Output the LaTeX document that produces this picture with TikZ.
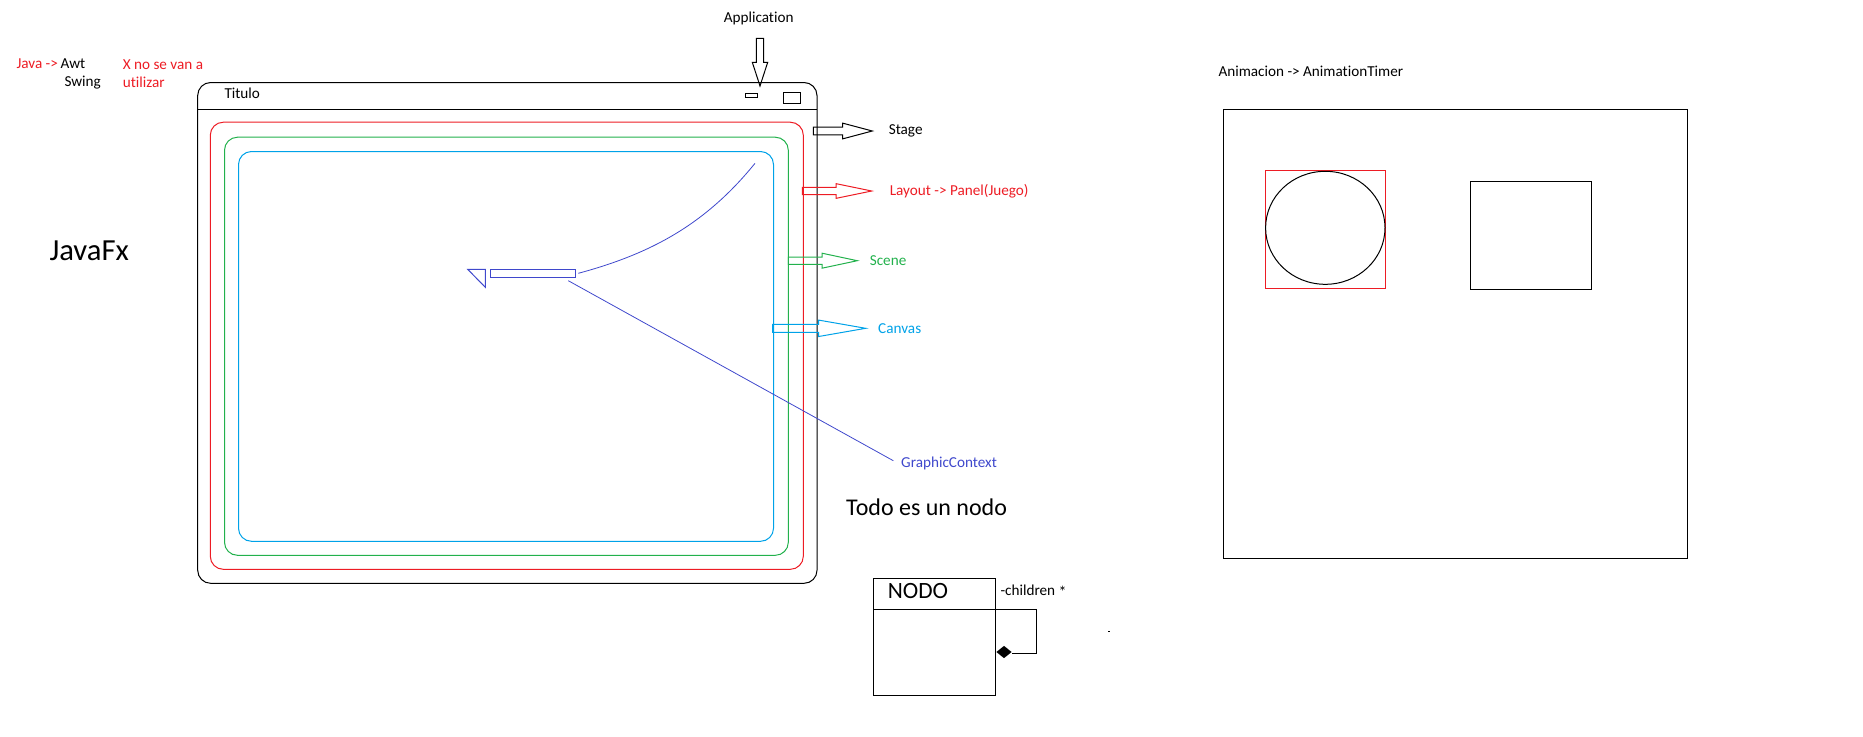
\documentclass[tikz,border=0pt]{standalone}
\usepackage{fontspec}
\setmainfont{Carlito}[Ligatures={NoCommon,NoContextual}]
\usetikzlibrary{shapes.geometric}
\definecolor{pred}{RGB}{237,28,36}
\definecolor{pgreen}{RGB}{34,177,76}
\definecolor{pcyan}{RGB}{0,162,232}
\definecolor{pindigo}{RGB}{63,72,204}
\newcommand\myrarrow[7]{%
  \draw[#1] (#2,#5-#6) -- (#3,#5-#6) -- (#3,#5-#7) -- (#4,#5) -- (#3,#5+#7) -- (#3,#5+#6) -- (#2,#5+#6) -- cycle;}
\begin{document}
\begin{tikzpicture}[x=0.75pt,y=-0.75pt,line width=0.75pt,
  lbl/.style={anchor=base west,inner sep=0,font=\fontsize{11.4}{13}\selectfont},
  big/.style={anchor=base west,inner sep=0,font=\fontsize{#1}{#1}\selectfont},
  frame/.style={rounded corners=13*0.75pt}]
\useasboundingbox (0,0) rectangle (1863,736);

% left texts
\node[lbl,text=pred] (java) at (16,68.3) {Java ->};
\node[lbl] (awt) at (60,68.3) {Awt};
\node[lbl] (swing) at (64,86.7) {Swing};
\node[lbl,text=pred] (xno) at (122.3,69) {X no se van a};
\node[lbl,text=pred] (util) at (122.3,87) {utilizar};
\node[big=23] (javafx) at (49,260.7) {JavaFx};

% window (stage)
\draw[frame] (197.7,82.5) rectangle (817,583.3);
\draw (197.7,109) -- (817,109);
\node[lbl] (titulo) at (224,98.3) {Titulo};
\draw (745.3,93.3) rectangle (757.7,97.3);
\draw (783.3,92) rectangle (800.3,103.3);

% nested frames
\draw[frame,pred] (210.3,122.2) rectangle (803.3,569.3);
\draw[frame,pgreen] (224.5,137.2) rectangle (788.3,555.3);
\draw[frame,pcyan] (238.5,151.5) rectangle (773.5,541.3);

% application arrow
\node[lbl] (app) at (723.3,22) {Application};
\draw (756.3,38.3) -- (763.7,38.3) -- (763.7,62.3) -- (767.7,62.3) -- (760,86) -- (752.3,62.3) -- (756.3,62.3) -- cycle;

% right-pointing block arrows and labels
\myrarrow{black}{813.3}{842.7}{872.3}{131}{3.85}{7.85}
\node[lbl] (stage) at (888.3,134) {Stage};
\myrarrow{pred}{802.3}{836}{871.7}{191}{3.7}{7.35}
\node[lbl,text=pred] (layout) at (889.3,195) {Layout -> Panel(Juego)};
\myrarrow{pgreen}{788.3}{822}{857.3}{260.7}{3.65}{7.5}
\node[lbl,text=pgreen] (scene) at (869.3,265.3) {Scene};
\myrarrow{pcyan}{772.7}{818.7}{865.7}{328.3}{4}{8.2}
\node[lbl,text=pcyan] (canvas) at (877.7,333) {Canvas};

% graphic context sketch
\draw[pindigo] (467.7,269.3) -- (485.3,269.3) -- (485.3,287.3) -- cycle;
\draw[pindigo] (490.3,269.3) rectangle (575.7,277.3);
\coordinate (c0) at (578.3,273.3);
\coordinate (c1) at (755,163.3);
\draw[pindigo,line width=0.6pt] (c0) .. controls (650,254) and (705,225) .. (c1);
\coordinate (g0) at (568.3,280.7);
\node[lbl,text=pindigo] (gc) at (900.7,467.3) {GraphicContext};
\coordinate (g1) at (893.3,460.7);
\draw[pindigo,line width=0.6pt] (g0) -- (g1);

% Todo es un nodo + UML
\node[big=18] (todo) at (845.7,515.7) {Todo es un nodo};
\draw (873.7,578.7) rectangle (995.3,695);
\draw (873.7,609) -- (995.3,609);
\node[big=17.5] (nodo) at (887.3,598) {NODO};
\node[lbl] (children) at (1000,595.5) {-children \raisebox{-0.15em}{\large *}};
\coordinate (n0) at (995.3,609);
\coordinate (n1) at (1036,609);
\coordinate (n2) at (1036,653.3);
\node[diamond,fill=black,inner sep=0,minimum width=11.7pt,minimum height=9.5pt] (dia) at (1004,652) {};
\draw (n0) -- (n1) -- (n2) -- (dia.east |- n2);
\draw (1108,631.7) -- (1109.6,631.7);

% animation panel
\node[lbl] (anim) at (1218,76) {Animacion -> AnimationTimer};
\draw (1223.3,109.3) rectangle (1687.7,558);
\draw[pred] (1265.3,170.3) rectangle (1385.3,288.3);
\draw (1325.3,227.8) ellipse [x radius=59.7, y radius=56.5];
\draw (1470.3,181.3) rectangle (1591.7,289.3);
\end{tikzpicture}
\end{document}
